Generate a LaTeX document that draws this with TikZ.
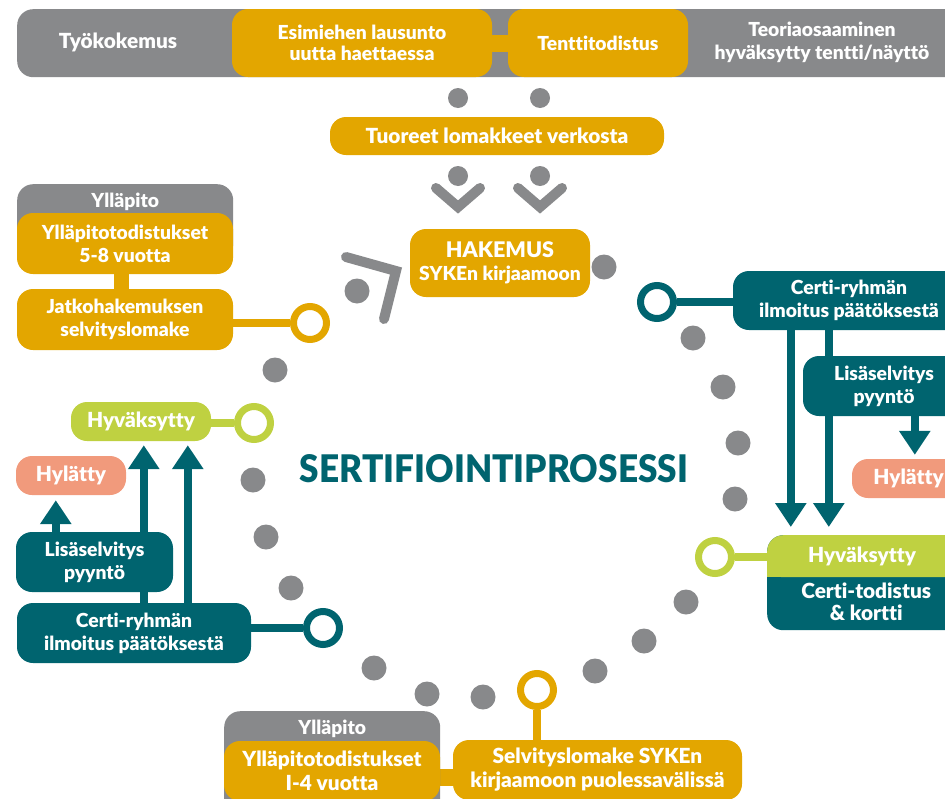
\documentclass[tikz,border=0pt]{standalone}
\usepackage{fontspec}
\setmainfont{Lato}[Ligatures=NoCommon, BoldFont={Lato Black}]
\usepackage{graphicx}
\usetikzlibrary{arrows.meta,positioning,calc}
\definecolor{kelta}{HTML}{E3A600}
\definecolor{harmaa}{HTML}{88898B}
\definecolor{petroli}{HTML}{00646F}
\definecolor{lime}{HTML}{BFD141}
\definecolor{lohi}{HTML}{F19A7C}
\pgfdeclarelayer{bg}
\pgfdeclarelayer{links}
\pgfsetlayers{bg,links,main}

\begin{document}
\begin{tikzpicture}[
        x=1pt, y=-1pt,
        txt/.style={text=white, align=center, inner sep=0pt,
            font=\bfseries\fontsize{19.3}{23}\selectfont},
        bigtxt/.style={txt, font=\bfseries\fontsize{20.8}{24}\selectfont},
        box/.style={txt, rounded corners=16pt},
        obox/.style={box, fill=kelta},
        gbox/.style={box, fill=harmaa},
        tbox/.style={box, fill=petroli},
        lbox/.style={box, fill=lime},
        sbox/.style={box, fill=lohi},
        ring/.style={circle, draw=#1, fill=white, line width=7pt, minimum size=33pt, inner sep=0pt},
        link/.style={draw=#1, line width=8pt},
        arrow/.style={-{Triangle[width=30pt,length=24pt]}, draw=petroli, line width=8.5pt},
        person/.style={draw=harmaa, line width=10pt, line cap=round, line join=miter}
    ]
        \useasboundingbox (0,0) rectangle (945,798);

        % Top row
        \begin{pgfonlayer}{bg}
            \node[gbox, anchor=north west, minimum width=958pt, minimum height=68pt] (topbar) at (17,9) {};
        \end{pgfonlayer}
        \node[bigtxt] (tyo) at (118,42) {Työkokemus};
        \node[obox, minimum width=260pt, minimum height=68pt, font=\bfseries\fontsize{19.3}{21.5}\selectfont] (esim) at (362,43) {Esimiehen lausunto\\uutta haettaessa};
        \node[obox, minimum width=180pt, minimum height=68pt] (tentti) at (598,43) {Tenttitodistus};
        \node[txt] (teoria) at (822,42) {Teoriaosaaminen\\hyväksytty tentti/näyttö};

        \fill[harmaa] (458,98) circle[radius=10pt];
        \fill[harmaa] (540,98) circle[radius=10pt];
        \node[obox, bigtxt, minimum width=334pt, minimum height=38pt] (tuoreet) at (497,136) {Tuoreet lomakkeet verkosta};

        % People
        \fill[harmaa] (458,176) circle[radius=10pt];
        \draw[person] (436,188) -- (458,207) -- (480,188);
        \fill[harmaa] (540,176) circle[radius=10pt];
        \draw[person] (518,188) -- (540,207) -- (562,188);
        \fill[harmaa] (357,291) circle[radius=12.5pt];
        \draw[person] (346,257) -- (396,271) -- (384,319);

        \node[obox, minimum width=180pt, minimum height=68pt] (hakemus) at (500,263) {{\fontsize{21.5}{23}\selectfont HAKEMUS}\\SYKEn kirjaamoon};

        % Title
        \node[inner sep=0pt, text=petroli] (title) at (494,469) {\resizebox{388pt}{28pt}{\bfseries SERTIFIOINTIPROSESSI}};

        % Dots
        \fill[harmaa] (604,267) circle[radius=12.5pt];
        \fill[harmaa] (693,338) circle[radius=12.5pt];
        \fill[harmaa] (723,387) circle[radius=12.5pt];
        \fill[harmaa] (738,443) circle[radius=12.5pt];
        \fill[harmaa] (735,499) circle[radius=12.5pt];
        \fill[harmaa] (686,602) circle[radius=12.5pt];
        \fill[harmaa] (644,641) circle[radius=12.5pt];
        \fill[harmaa] (595,671) circle[radius=12.5pt];
        \fill[harmaa] (483,697) circle[radius=12.5pt];
        \fill[harmaa] (427,694) circle[radius=12.5pt];
        \fill[harmaa] (374,668) circle[radius=12.5pt];
        \fill[harmaa] (291,588) circle[radius=12.5pt];
        \fill[harmaa] (266,537) circle[radius=12.5pt];
        \fill[harmaa] (253,480) circle[radius=12.5pt];
        \fill[harmaa] (275,370) circle[radius=12.5pt];

        % Rings
        \node[ring=kelta] (r1) at (310,323) {};
        \node[ring=lime] (r2) at (254,423) {};
        \node[ring=petroli] (r3) at (323,628) {};
        \node[ring=kelta] (r4) at (537,690) {};
        \node[ring=lime] (r5) at (715,557) {};
        \node[ring=petroli] (r6) at (657,302) {};

        % Upper left
        \node[gbox, anchor=north west, minimum width=216pt, minimum height=76pt] (yllapito1) at (17,184) {};
        \node[txt, below=9pt of yllapito1.north] (yllapito1txt) {Ylläpito};
        \node[obox, minimum width=216pt, minimum height=61pt] (yllatod1) at (125,243.5) {Ylläpitotodistukset\\5-8 vuotta};
        \node[obox, minimum width=216pt, minimum height=61pt] (jatko) at (125,319.5) {Jatkohakemuksen\\selvityslomake};

        % Lower left
        \node[lbox, bigtxt, minimum width=140pt, minimum height=39pt] (hyv1) at (141,421.5) {Hyväksytty};
        \node[sbox, bigtxt, minimum width=110pt, minimum height=39pt] (hyl1) at (71,475.5) {Hylätty};
        \node[tbox, minimum width=157pt, minimum height=60pt] (lisa1) at (94.5,562) {Lisäselvitys\\pyyntö};
        \node[tbox, minimum width=234pt, minimum height=60pt] (certi1) at (134,633) {Certi-ryhmän\\ilmoitus päätöksestä};

        % Right
        \node[tbox, minimum width=232pt, minimum height=59pt] (certi2) at (849,300.5) {Certi-ryhmän\\ilmoitus päätöksestä};
        \node[tbox, minimum width=162pt, minimum height=60pt] (lisa2) at (884,386) {Lisäselvitys\\pyyntö};
        \node[sbox, bigtxt, minimum width=113pt, minimum height=39pt] (hyl2) at (908.5,478.5) {Hylätty};
        \node[tbox, anchor=north west, minimum width=198pt, minimum height=95pt] (kortti) at (767,535) {};
        \node[lbox, anchor=north west, minimum width=198pt, minimum height=42pt] (hyv2) at (767,535) {};
        \fill[lime] (hyv2.west) rectangle (hyv2.south east);
        \node[bigtxt] (hyv2txt) at (862,556) {Hyväksytty};
        \node[bigtxt, font=\bfseries\fontsize{20.8}{22.5}\selectfont, below=5pt of hyv2.south] (korttitxt) {Certi-todistus\\\& kortti};

        % Bottom
        \node[gbox, anchor=north west, minimum width=216pt, minimum height=120pt] (yllapito2) at (224,711) {};
        \node[txt, below=9pt of yllapito2.north] (yllapito2txt) {Ylläpito};
        \node[obox, bigtxt, minimum width=216pt, minimum height=60pt] (yllatod2) at (332,771) {Ylläpitotodistukset\\I-4 vuotta};
        \node[obox, bigtxt, minimum width=289pt, minimum height=60pt] (selv) at (597.5,770) {Selvityslomake SYKEn\\kirjaamoon puolessavälissä};

        % Links
        \begin{pgfonlayer}{links}
            \draw[link=kelta, line width=17pt] (esim) -- (tentti);
            \draw[link=kelta, line width=15pt] ($(yllatod1.south)+(-3.5,0)$) -- ($(jatko.north)+(-3.5,0)$);
            \draw[link=kelta, line width=17pt] ($(yllatod2.east)+(0,6)$) -- ($(selv.west)+(0,7)$);
            \draw[link=kelta] (r1) -- (r1 -| jatko.east);
            \draw[link=lime] (r2) -- (r2 -| hyv1.east);
            \draw[link=petroli] (r3) -- (r3 -| certi1.east);
            \draw[link=kelta] (r4) -- (r4 |- selv.north);
            \draw[link=lime] (r5) -- (r5 -| hyv2.west);
            \draw[link=petroli] (r6) -- (r6 -| certi2.west);

            % Arrows
            \draw[arrow] ($(lisa1.north west)+(40,0)$) -- ($(lisa1.north west |- hyl1.south)+(40,5)$);
            \draw[arrow] ($(hyv1.south west |- certi1.north)+(73,0)$) -- ($(hyv1.south west)+(73,4)$);
            \draw[arrow] ($(hyv1.south west |- certi1.north)+(117,0)$) -- ($(hyv1.south west)+(117,4)$);
            \draw[arrow] ($(certi2.south west)+(58,0)$) -- ($(certi2.south west |- hyv2.north)+(58,-8)$);
            \draw[arrow] ($(certi2.south west)+(96,0)$) -- ($(certi2.south west |- hyv2.north)+(96,-8)$);
            \draw[arrow] ($(lisa2.south west)+(112,0)$) -- ($(lisa2.south west |- hyl2.north)+(112,-4)$);
        \end{pgfonlayer}
    \end{tikzpicture}
\end{document}
